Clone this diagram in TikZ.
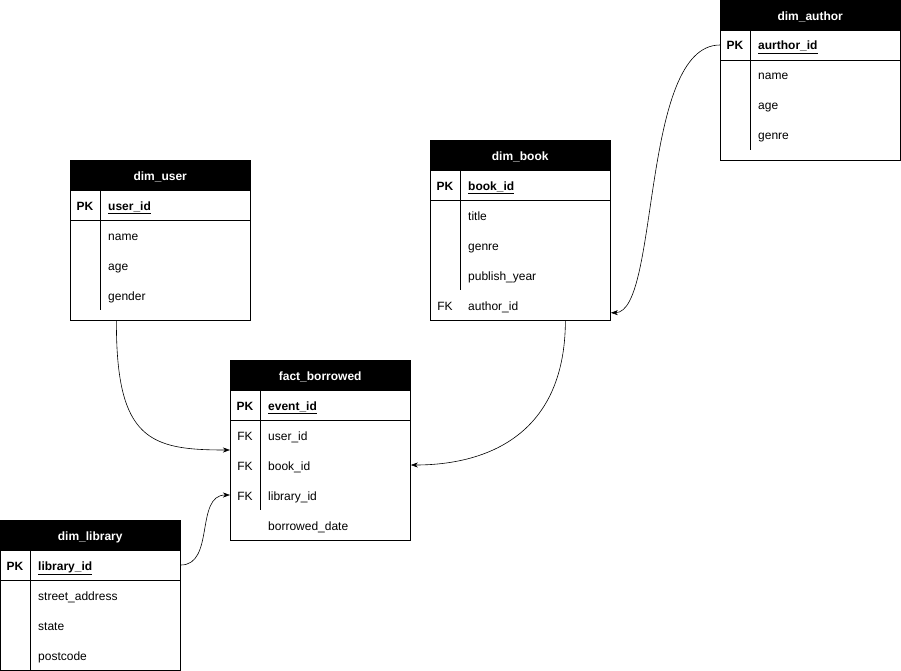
\documentclass[tikz,border=0pt]{standalone}
\usepackage{fontspec}
\setmainfont{Liberation Sans}
\usetikzlibrary{arrows.meta}

\begin{document}
\begin{tikzpicture}[
  x=1pt, y=-1pt,
  every node/.style={font=\fontsize{12}{14}\selectfont, inner sep=0pt,
    text height=10pt, text depth=0pt},
  table/.style={draw, line width=0.8pt, minimum width=180pt, anchor=north west},
  header/.style={draw, fill=black, text=white, font=\fontsize{12}{14}\selectfont\bfseries,
    minimum width=180pt, minimum height=30pt, anchor=north west},
  key/.style={anchor=center},
  pkey/.style={anchor=center, font=\fontsize{12}{14}\selectfont\bfseries},
  field/.style={anchor=west},
  rel/.style={line width=0.6pt, -{Stealth[length=7pt,width=5pt,inset=2pt]}}]
\useasboundingbox (0,0) rectangle (901,671);

%% dim_author
\node [table, minimum height=160pt] (author) at (720,0) {};
\node [header] (authorH) at (720,0) {dim\_author};
\node [pkey] (aPK) at (735,45) {PK};
\node [field, font=\fontsize{12}{14}\selectfont\bfseries] (aF1) at (758,45) {\underline{aurthor\_id}};
\node [field] (aF2) at (758,75) {name};
\node [field] (aF3) at (758,105) {age};
\node [field] (aF4) at (758,135) {genre};
\draw (720,60) -- (900,60);
\draw (750,30) -- (750,150);

%% dim_book
\node [table, minimum height=180pt] (book) at (430,140) {};
\node [header] (bookH) at (430,140) {dim\_book};
\node [pkey] (bPK) at (445,185) {PK};
\node [field, font=\fontsize{12}{14}\selectfont\bfseries] (bF1) at (468,185) {\underline{book\_id}};
\node [field] (bF2) at (468,215) {title};
\node [field] (bF3) at (468,245) {genre};
\node [field] (bF4) at (468,275) {publish\_year};
\node [key] (bFK) at (445,305) {FK};
\node [field] (bF5) at (468,305) {author\_id};
\draw (430,200) -- (610,200);
\draw (460,170) -- (460,290);

%% dim_user
\node [table, minimum height=160pt] (user) at (70,160) {};
\node [header] (userH) at (70,160) {dim\_user};
\node [pkey] (uPK) at (85,205) {PK};
\node [field, font=\fontsize{12}{14}\selectfont\bfseries] (uF1) at (108,205) {\underline{user\_id}};
\node [field] (uF2) at (108,235) {name};
\node [field] (uF3) at (108,265) {age};
\node [field] (uF4) at (108,295) {gender};
\draw (70,220) -- (250,220);
\draw (100,190) -- (100,310);

%% fact_borrowed
\node [table, minimum height=180pt] (fact) at (230,360) {};
\node [header] (factH) at (230,360) {fact\_borrowed};
\node [pkey] (fPK) at (245,405) {PK};
\node [field, font=\fontsize{12}{14}\selectfont\bfseries] (fF1) at (268,405) {\underline{event\_id}};
\node [key] (fFK1) at (245,435) {FK};
\node [field] (fF2) at (268,435) {user\_id};
\node [key] (fFK2) at (245,465) {FK};
\node [field] (fF3) at (268,465) {book\_id};
\node [key] (fFK3) at (245,495) {FK};
\node [field] (fF4) at (268,495) {library\_id};
\node [field] (fF5) at (268,525) {borrowed\_date};
\draw (230,420) -- (410,420);
\draw (260,390) -- (260,510);

%% dim_library
\node [table, minimum height=150pt] (library) at (0,520) {};
\node [header] (libraryH) at (0,520) {dim\_library};
\node [pkey] (lPK) at (15,565) {PK};
\node [field, font=\fontsize{12}{14}\selectfont\bfseries] (lF1) at (38,565) {\underline{library\_id}};
\node [field] (lF2) at (38,595) {street\_address};
\node [field] (lF3) at (38,625) {state};
\node [field] (lF4) at (38,655) {postcode};
\draw (0,580) -- (180,580);
\draw (30,550) -- (30,670);

%% relations
\draw [rel] (author.west |- aPK) .. controls (640,45) and (660,312) .. ([yshift=8pt]book.south east);
\draw [rel] ([xshift=-44pt]user.south) .. controls (116,440) and (150,450) .. (fact.west |- 0,450);
\draw [rel] ([xshift=45pt]book.south) .. controls (565,440) and (480,465) .. (fact.east |- fFK2);
\draw [rel] (library.east |- lPK) .. controls (215,565) and (195,495) .. (fact.west |- fFK3);
\end{tikzpicture}
\end{document}
